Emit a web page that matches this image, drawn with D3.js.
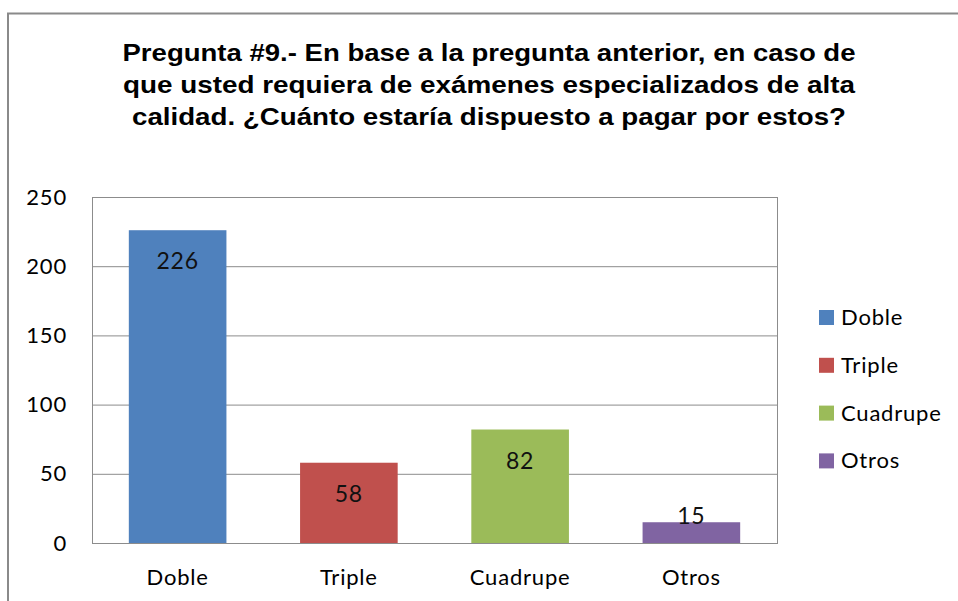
<!DOCTYPE html>
<html>
<head>
<meta charset="utf-8">
<script src="https://cdn.jsdelivr.net/npm/d3@7"></script>
<style>
  body { margin: 0; background: #fff; }
  svg { display: block; }
  .tick text { font-family: Lato, "Open Sans", sans-serif; font-size: 22px; fill: #000; letter-spacing: 0.8px; }
</style>
</head>
<body>
<div id="chart"></div>
<script>
// chart data
var categories = ["Doble", "Triple", "Cuadrupe", "Otros"];
var values = [226, 58, 82, 15];
var colors = ["#4F81BD", "#C0504D", "#9BBB59", "#8064A2"];
var yTicks = [0, 50, 100, 150, 200, 250];
var titleLines = [
  "Pregunta #9.- En base a la pregunta anterior, en caso de",
  "que usted requiera de exámenes especializados de alta",
  "calidad. ¿Cuánto estaría dispuesto a pagar por estos?"
];
var titleWidths = [733, 732, 714];

var svgWidth = 958;
var svgHeight = 601;

var plot = { left: 92, top: 197, right: 777, bottom: 543 };
var width = plot.right - plot.left;
var height = plot.bottom - plot.top;

var svg = d3.select("#chart")
  .append("svg")
  .attr("width", svgWidth)
  .attr("height", svgHeight);

// outer chart border (runs off the right and bottom edges)
svg.append("rect")
  .attr("x", 8)
  .attr("y", 13.5)
  .attr("width", 1000)
  .attr("height", 700)
  .attr("fill", "none")
  .attr("stroke", "#8a8a8a")
  .attr("stroke-width", 2);

// title
svg.append("g").selectAll("text")
  .data(titleLines)
  .enter()
  .append("text")
  .attr("x", 489)
  .attr("y", (d, i) => 61 + i * 31.8)
  .attr("text-anchor", "middle")
  .attr("textLength", (d, i) => titleWidths[i])
  .attr("lengthAdjust", "spacingAndGlyphs")
  .style("font-family", "'Liberation Sans', Arial, sans-serif")
  .style("font-weight", "bold")
  .style("font-size", "24px")
  .style("fill", "#000")
  .text(d => d);

var chartGroup = svg.append("g")
  .attr("transform", `translate(${plot.left}, ${plot.top})`);

// scales
var xScale = d3.scaleBand()
  .domain(categories)
  .range([0, width])
  .paddingInner(0.43)
  .paddingOuter(0.215);

var yScale = d3.scaleLinear()
  .domain([0, 250])
  .range([height, 0]);

// gridlines
var grid = chartGroup.append("g")
  .call(d3.axisLeft(yScale).tickValues(yTicks).tickSize(-width).tickFormat(""));
grid.select(".domain").remove();
grid.selectAll("line").attr("stroke", "#8c8c8c").attr("stroke-width", 1);

// plot area border
chartGroup.append("rect")
  .attr("x", 0.5)
  .attr("y", 0.5)
  .attr("width", width)
  .attr("height", height)
  .attr("fill", "none")
  .attr("stroke", "#8c8c8c")
  .attr("stroke-width", 1);

// y axis labels
var yAxis = chartGroup.append("g")
  .call(d3.axisLeft(yScale).tickValues(yTicks).tickSize(0).tickPadding(25));
yAxis.select(".domain").remove();

// bars
chartGroup.selectAll(".bar")
  .data(values)
  .enter()
  .append("rect")
  .attr("class", "bar")
  .attr("x", (d, i) => xScale(categories[i]))
  .attr("y", d => yScale(d))
  .attr("width", xScale.bandwidth())
  .attr("height", d => height - yScale(d))
  .attr("fill", (d, i) => colors[i]);

// x axis line + category labels
var xAxis = chartGroup.append("g")
  .attr("transform", `translate(0, ${height})`)
  .call(d3.axisBottom(xScale).tickSize(0).tickPadding(0));
xAxis.select(".domain").attr("stroke", "#8c8c8c");
xAxis.selectAll("text").attr("y", 42).attr("dy", 0);

// value labels
chartGroup.selectAll(".val")
  .data(values)
  .enter()
  .append("text")
  .attr("class", "val")
  .attr("x", (d, i) => xScale(categories[i]) + xScale.bandwidth() / 2)
  .attr("y", d => Math.min(yScale(d) + 39, height - 19))
  .attr("text-anchor", "middle")
  .style("font-family", "Lato, 'Open Sans', sans-serif")
  .style("font-size", "23px")
  .style("letter-spacing", "0.8px")
  .style("fill", "#111")
  .text(d => d);

// legend
var legend = svg.append("g")
  .attr("transform", "translate(819, 310)");

var items = legend.selectAll("g")
  .data(categories)
  .enter()
  .append("g")
  .attr("transform", (d, i) => `translate(0, ${i * 47.8})`);

items.append("rect")
  .attr("width", 15)
  .attr("height", 15)
  .attr("fill", (d, i) => colors[i]);

items.append("text")
  .attr("x", 22)
  .attr("y", 15)
  .style("font-family", "Lato, 'Open Sans', sans-serif")
  .style("font-size", "22px")
  .style("letter-spacing", "0.8px")
  .style("fill", "#000")
  .text(d => d);
</script>
</body>
</html>
